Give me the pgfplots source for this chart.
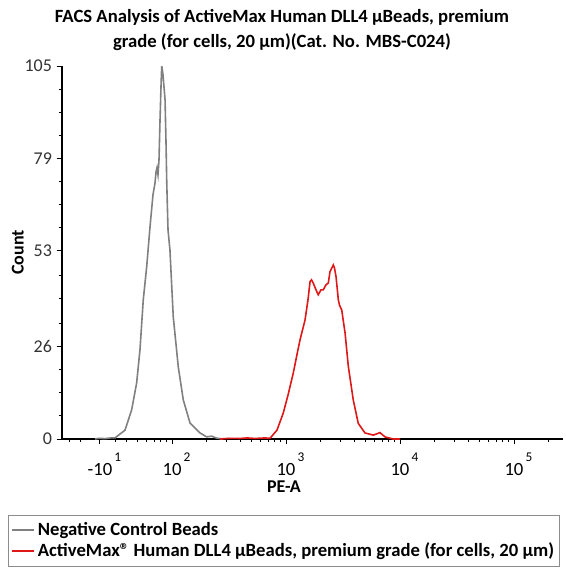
\documentclass[border=0pt]{standalone}
\usepackage{fontspec}
\setmainfont{Carlito}
\usepackage{pgfplots}
\pgfplotsset{compat=1.18}
\definecolor{negGray}{RGB}{128,128,128}
\definecolor{posRed}{RGB}{222,24,24}
% decade label: base with a raised exponent to its right
\newcommand{\dec}[2]{#1\rlap{\raisebox{1.55ex}{\fontsize{10}{10}\selectfont\,#2}}}

\begin{document}
\begin{tikzpicture}
\useasboundingbox (-46.5pt,-99.75pt) rectangle (377.25pt,329.25pt);
\begin{axis}[
  at={(0,0)}, anchor=south west,
  scale only axis, width=375.75pt, height=279.75pt,
  xmin=1.035, xmax=5.43, ymin=0, ymax=105,
  axis x line=bottom, axis y line=left,
  axis line style={-, line width=1pt},
  tick align=outside,
  major tick length=4pt, minor tick length=2.5pt,
  tick style={black, line width=0.7pt},
  xtick={1.368,2,3,4,5},
  xticklabels={\dec{-10}{1},\dec{10}{2},\dec{10}{3},\dec{10}{4},\dec{10}{5}},
  minor xtick={1.1,1.2,1.5,1.6,1.7,1.78,1.85,1.9,1.95,
    2.301,2.477,2.602,2.699,2.778,2.845,2.903,2.954,
    3.301,3.477,3.602,3.699,3.778,3.845,3.903,3.954,
    4.301,4.477,4.602,4.699,4.778,4.845,4.903,4.954,5.301},
  ytick={0,26,53,79,105},
  minor ytick={6.5,13,19.5,32.5,39.5,46,59.5,66,72.5,85.5,92,98.5},
  /pgf/number format/assume math mode=true,
  xticklabel style={font=\fontsize{14}{14}\selectfont, yshift=-3pt},
  yticklabel style={font=\fontsize{13.5}{13.5}\selectfont, text=black!80},
  xlabel={PE-A}, ylabel={Count},
  xlabel style={font=\bfseries\fontsize{13.5}{13.5}\selectfont,
    at={(axis description cs:0.443,-0.127)}, anchor=center},
  ylabel style={font=\bfseries\fontsize{13.5}{13.5}\selectfont,
    at={(axis description cs:-0.088,0.5)}, anchor=center},
  legend style={at={(-0.1078,-0.2038)}, anchor=north west,
    draw=black!45, font=\bfseries\fontsize{14}{16.5}\selectfont,
    inner xsep=2pt, inner ysep=3.5pt, row sep=0pt},
  legend cell align=left,
  legend image code/.code={\draw[#1] (0pt,0pt) -- (17pt,0pt);},
]
\addplot[draw=negGray, line width=1.2pt] coordinates {
  (1.325,0) (1.36,0.2) (1.412,0.1) (1.46,0.3) (1.5,0.3) (1.588,2.5)
  (1.646,8.2) (1.690,15.8) (1.719,25.1) (1.748,39.2) (1.778,48.5)
  (1.807,59.7) (1.833,68.7) (1.851,72.1) (1.860,75.2) (1.868,76.3)
  (1.877,74.4) (1.886,78.6) (1.895,89.9) (1.904,99.7) (1.910,105)
  (1.921,102.5) (1.939,95.5) (1.947,84.2) (1.954,72.1) (1.965,58.9)
  (1.982,53.2) (2.011,34.4) (2.055,20.3) (2.099,11.0) (2.158,4.5)
  (2.246,1.7) (2.304,0.6) (2.348,0.8) (2.386,0.3) (2.439,0)
};
\addlegendentry{Negative Control Beads}
\addplot[draw=posRed, line width=1.2pt] coordinates {
  (2.421,0) (2.50,0.2) (2.596,0.15) (2.66,0.3) (2.728,0.15) (2.816,0.3)
  (2.860,0.2) (2.921,2.5) (2.976,7.3) (3.018,12.4) (3.064,18.6)
  (3.096,23.7) (3.123,27.9) (3.167,33.5) (3.193,39.2) (3.211,44.3)
  (3.224,44.8) (3.239,43.9) (3.263,42.0) (3.283,40.6) (3.307,42.0)
  (3.327,42.0) (3.351,43.4) (3.371,43.9) (3.386,47.1) (3.415,49.0)
  (3.425,48.2) (3.439,45.7) (3.459,39.2) (3.469,37.7) (3.489,36.3)
  (3.518,29.9) (3.547,20.4) (3.590,11.0) (3.634,4.4) (3.693,1.7)
  (3.766,1.1) (3.825,1.8) (3.868,0.6) (3.941,0) (4.0,0)
};
\addlegendentry{ActiveMax® Human DLL4 µBeads, premium grade (for cells, 20 µm)}
\end{axis}
\node[align=center, font=\bfseries\fontsize{14}{18.75}\selectfont]
  at (165pt,306.75pt) {FACS Analysis of ActiveMax Human DLL4 µBeads, premium\\grade (for cells, 20 µm)(Cat. No. MBS-C024)};
\end{tikzpicture}
\end{document}
